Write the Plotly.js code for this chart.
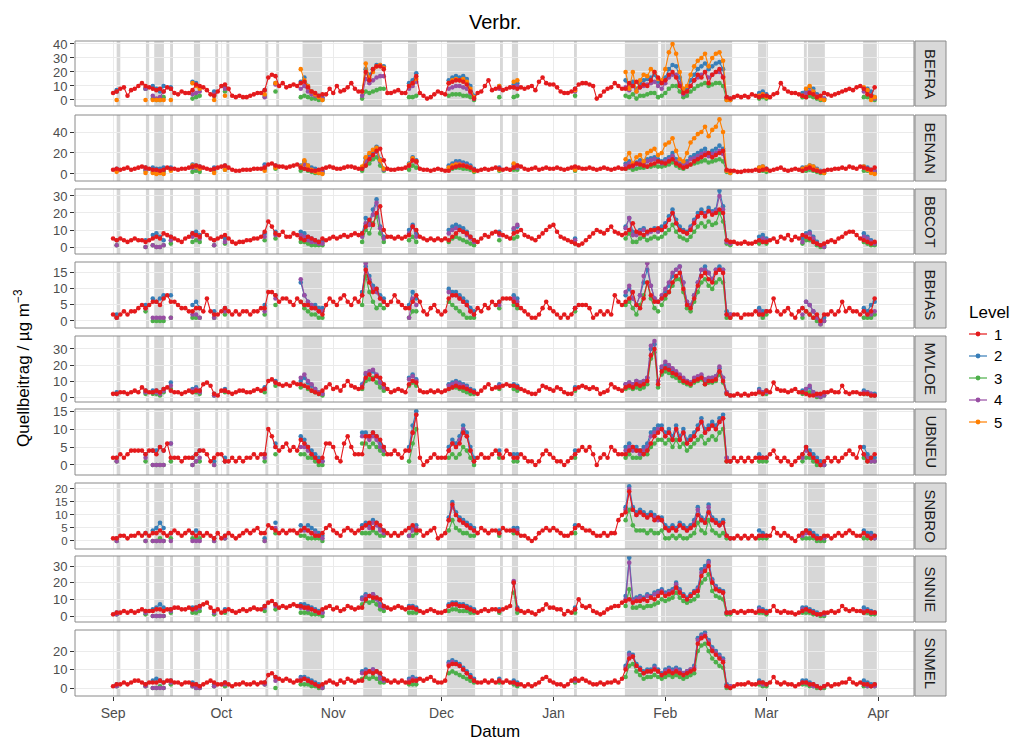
<!DOCTYPE html>
<html><head><meta charset="utf-8">
<script src="https://cdn.plot.ly/plotly-3.0.1.min.js"></script>
<style>html,body{margin:0;padding:0;background:#fff}#chart{width:1020px;height:742px}</style>
</head><body><div id="chart"></div>
<script>
// ---------------- DATA ----------------
const STATIONS = ['BEFRA','BENAN','BBCOT','BBHAS','MVLOE','UBNEU','SNBRO','SNNIE','SNMEL'];
const LEVELS = ['1','2','3','4','5'];
const MONTH_TICKS = ['2013-09-01','2013-10-01','2013-11-01','2013-12-01','2014-01-01','2014-02-01','2014-03-01','2014-04-01'];
const Y_TICKS = [[0,10,20,30,40],[0,20,40],[0,10,20,30],[0,5,10,15],[0,10,20,30],[0,5,10,15],[0,5,10,15,20],[0,10,20,30],[0,10,20]];
// episode days (days after 1 Sep) on which levels 2-5 are reported
const EPISODE_START = [1,9,11,16,22,28,31,42,45,52,69,82,93,107,111,128,142,152,179,191,192,208];
const EPISODE_END   = [1,9,14,16,24,28,31,42,45,58,75,84,100,107,112,128,151,171,181,191,197,211];
// shaded periods (days after 1 Sep)
const SHADE_START = [1.0,9.1,11.4,15.8,22.4,28.3,31.4,42.2,45.2,52.5,69.3,81.7,92.5,107.2,110.5,127.7,141.8,151.8,178.7,191.4,192.5,207.8];
const SHADE_END   = [2.0,10.0,14.1,16.6,24.1,29.1,32.2,43.0,46.0,57.9,74.5,84.2,100.3,108.0,112.2,128.5,151.0,171.5,181.4,192.2,197.2,211.6];

// Level 1: daily values 1 Sep .. 31 Mar (one line per month)
const BEFRA_L1 = [
 5,6,8,9,3,7,8,10,12,10,9,8,7,8,6,9,8,5,4,6,5,5,7,11,10,9,7,4,3,6,
 10,11,8,3,2,3,2,2,3,4,5,5,7,16,18,17,10,12,9,10,11,10,12,13,9,6,5,3,4,4,8,
 5,10,6,7,9,12,8,6,6,20,14,22,24,24,22,5,5,6,7,5,5,10,12,17,5,3,1,2,4,6,
 5,4,12,13,14,14,13,11,6,1,5,6,10,14,7,8,9,7,8,9,9,8,9,8,9,10,7,13,16,12,11,
 11,9,6,5,5,6,8,11,12,12,11,10,1,3,6,8,9,12,10,8,8,12,10,13,9,11,10,14,20,16,12,
 14,18,20,16,10,5,6,10,14,18,16,20,12,18,20,22,16,2,1,2,3,2,3,2,4,3,2,3,
 3,2,4,5,12,8,6,5,5,4,3,2,5,4,2,3,5,4,3,4,5,6,7,8,7,9,10,8,4,3,9];
const BENAN_L1 = [
 4,5,4,5,6,4,5,6,7,6,5,4,4,3,4,6,5,5,4,5,5,6,7,8,7,6,5,4,5,6,
 7,8,6,4,3,3,4,4,4,5,5,5,6,9,10,8,7,7,6,7,8,9,6,5,4,3,3,4,5,6,7,
 6,5,5,6,7,7,6,5,5,8,14,18,22,24,13,5,4,4,5,5,6,8,13,12,5,4,4,3,4,5,
 4,3,3,6,7,8,8,7,6,4,3,4,5,4,5,6,5,4,5,4,6,8,7,5,4,5,6,4,5,6,5,
 5,6,5,4,5,6,7,6,5,5,6,5,4,5,6,5,4,5,6,5,5,7,8,10,9,8,7,9,10,12,11,
 10,12,14,10,8,6,7,9,12,14,16,18,20,16,18,20,22,4,3,3,2,2,3,3,3,4,3,4,
 5,3,4,5,6,4,3,4,5,4,3,5,6,4,3,2,3,4,4,5,5,6,5,7,6,5,7,6,5,4,6];
const BBCOT_L1 = [
 5,4,5,4,3,4,5,4,4,3,4,5,6,5,8,7,6,5,4,3,5,6,8,7,6,9,7,5,4,5,
 6,7,5,3,2,3,3,4,4,5,5,6,9,15,12,8,7,9,6,6,8,7,5,4,6,5,4,3,5,4,5,
 6,5,6,7,6,7,8,7,8,12,16,13,20,24,10,6,6,5,6,5,6,7,12,10,6,5,4,5,4,5,
 4,5,4,6,8,10,9,8,6,4,3,5,7,6,8,9,8,7,6,5,8,9,10,7,6,5,4,6,8,10,12,
 13,9,6,5,4,3,2,1,2,4,6,8,10,9,8,10,12,9,8,7,8,10,14,9,8,7,9,10,10,11,10,
 12,16,20,14,10,9,8,10,14,18,20,18,21,19,20,22,20,4,3,3,2,2,3,2,2,3,4,3,
 3,4,5,3,6,5,7,4,6,5,7,6,5,3,2,1,2,3,4,3,5,6,8,9,9,7,5,4,3,2,3];
const BBHAS_L1 = [
 2,1,2,3,2,3,3,4,5,4,5,6,6,5,7,8,6,6,5,4,4,3,3,4,4,3,7,3,2,2,
 3,4,3,2,3,2,3,3,2,3,3,4,4,9,9,8,6,7,7,6,5,7,6,5,5,4,4,3,2,5,7,
 6,5,7,8,6,5,7,6,8,16,12,9,10,7,6,5,6,8,6,5,4,4,6,8,6,3,2,4,5,3,
 2,3,7,8,8,7,6,5,3,2,4,3,5,4,6,5,6,7,7,7,6,5,4,3,2,1,1,2,4,6,4,
 3,2,1,2,1,2,4,5,5,5,4,1,2,3,2,3,2,8,6,5,6,7,9,5,4,7,12,8,6,6,7,
 8,9,12,14,15,10,5,4,7,11,14,15,13,12,15,16,15,2,1,2,2,1,2,2,2,3,2,2,
 3,3,7,3,2,3,4,2,1,3,4,3,2,1,2,0,2,2,3,2,3,6,3,4,3,3,2,3,2,3,7];
const MVLOE_L1 = [
 2,2,3,3,2,3,4,3,6,4,3,3,4,3,5,6,4,3,3,2,3,4,3,4,4,8,9,7,2,1,
 4,4,3,2,3,4,4,3,3,4,5,4,5,10,11,9,8,7,8,7,9,8,8,7,6,4,3,2,4,6,8,
 5,6,4,7,10,7,6,5,6,12,14,11,13,12,8,5,3,4,5,4,3,8,10,9,4,3,3,4,3,4,
 3,4,5,6,7,6,6,5,4,3,2,4,6,8,5,6,6,7,8,7,7,6,5,4,3,2,2,4,7,6,5,
 4,6,5,3,2,2,5,6,7,6,5,6,5,2,3,4,8,6,5,4,6,7,6,8,7,8,10,26,30,8,16,
 18,17,15,14,12,10,9,8,10,11,12,8,10,10,11,16,10,2,1,1,2,1,2,1,2,2,3,2,
 4,3,9,5,4,4,3,4,5,3,3,2,1,1,2,2,3,3,4,3,3,7,3,2,3,3,2,2,2,1,1];
const UBNEU_L1 = [
 2,2,3,2,3,4,4,4,4,3,4,4,3,5,4,6,2,2,2,1,2,2,2,3,4,4,3,1,2,3,
 3,1,1,2,1,2,1,2,2,3,2,3,3,10,8,5,4,5,6,4,5,4,7,6,5,3,2,1,2,6,6,
 5,2,1,6,8,5,3,3,3,8,8,9,8,7,5,3,3,4,3,2,4,4,9,14,2,0,1,2,3,2,
 2,2,4,6,5,6,9,8,4,1,2,3,2,2,3,4,3,2,4,3,2,2,3,2,1,1,0,1,3,4,3,
 2,1,1,0,1,2,3,4,5,4,5,3,0,2,3,2,5,4,3,3,3,4,5,4,4,3,4,6,8,9,10,
 8,9,7,10,7,9,6,7,8,10,12,9,10,11,10,12,13,1,1,2,1,2,1,2,1,2,2,2,
 2,3,4,2,1,2,1,0,1,2,3,5,3,2,1,0,1,2,1,2,1,2,3,4,3,2,5,3,1,2,3];
const SNBRO_L1 = [
 1,1,2,2,1,2,2,3,2,3,2,3,3,4,3,2,3,4,3,2,3,4,3,2,3,2,3,2,1,3,
 1,2,3,2,1,2,3,4,3,4,5,3,3,6,5,4,3,4,3,4,4,3,4,5,4,3,2,2,3,5,6,
 4,3,2,4,5,4,3,4,5,6,7,5,7,6,4,3,2,3,2,3,4,5,6,4,4,2,3,4,5,1,
 2,3,8,14,10,8,7,6,5,4,3,5,4,3,4,4,3,5,4,4,4,3,2,2,1,0,1,3,4,5,4,
 5,4,3,2,2,3,5,6,5,4,4,3,2,2,3,2,3,3,8,10,11,19,12,10,11,10,9,10,8,9,8,
 5,4,5,4,6,5,4,5,6,10,8,7,11,8,7,6,7,2,1,1,2,1,2,1,2,1,2,2,
 2,2,5,3,2,3,2,1,0,2,3,4,3,2,1,1,2,2,1,2,3,2,3,4,3,2,2,3,2,1,2];
const SNNIE_L1 = [
 1,2,2,3,2,3,2,3,4,3,3,3,4,4,3,4,4,5,5,4,4,5,4,5,6,7,8,5,3,4,
 2,3,4,3,2,3,4,3,4,5,4,4,6,8,9,7,5,6,5,6,7,6,6,5,5,4,3,2,4,5,6,
 4,5,3,4,6,5,4,5,5,10,12,11,11,10,6,5,4,5,6,5,4,5,5,4,3,2,3,4,3,2,
 2,3,6,7,7,6,6,5,4,3,2,3,4,3,4,4,3,4,5,6,20,4,3,2,3,2,1,3,4,7,5,
 5,4,4,1,3,2,4,10,6,5,6,3,2,1,2,4,5,6,6,8,9,10,8,9,9,10,9,11,10,12,14,
 12,13,14,17,14,12,10,12,14,15,24,27,30,20,16,15,14,2,2,3,2,3,2,3,3,2,3,3,
 2,3,6,3,2,3,2,2,1,2,3,4,3,2,1,1,2,2,3,2,3,6,4,3,4,3,3,2,3,2,2];
const SNMEL_L1 = [
 1,2,2,3,2,3,4,4,3,2,3,3,3,4,3,4,4,3,3,2,3,3,2,2,1,2,3,4,3,2,
 2,3,2,1,2,2,3,2,2,3,2,3,3,7,8,6,5,4,5,4,3,4,4,5,4,3,2,1,2,3,4,
 3,2,4,3,5,4,3,4,4,8,9,8,9,8,5,4,3,4,3,4,3,3,4,4,5,4,5,6,4,3,
 3,4,12,13,13,12,10,8,6,4,3,3,4,3,4,3,4,3,4,3,3,2,2,1,2,1,2,3,5,6,4,
 3,2,2,1,2,4,5,4,5,4,3,2,2,3,2,3,3,4,3,5,10,16,17,12,10,8,9,9,10,9,7,
 8,9,8,9,8,7,8,9,10,24,27,28,24,20,18,16,14,1,0,1,2,2,2,3,2,2,3,3,
 2,3,6,3,2,3,2,2,1,2,3,3,2,2,1,0,1,2,1,2,2,3,3,5,3,2,3,2,2,1,2];

// Levels 2-5 on the episode days, segments in EPISODE_START order
const BEFRA_L2 = [7,8,10,8,6,10,9,13,12,9,6,10,7,12,13,16,10,6,4,3,2,6,22,18,22,25,25,24,12,14,19,14,16,17,16,17,15,10,3,10,11,12,8,14,10,13,8,12,14,15,16,18,13,12,16,22,25,24,16,6,8,14,18,22,24,26,22,24,26,27,22,2,1,5,6,4,5,7,9,8,4,2,1,8,8,6,2];
const BEFRA_L3 = [6,8,1,0,0,2,8,1,2,3,3,6,3,6,2,3,2,1,1,0,0,1,6,5,6,7,8,8,2,2,3,3,4,4,4,3,3,2,0,2,2,3,3,3,2,4,1,3,3,4,5,5,2,3,5,8,10,10,6,2,3,6,8,10,11,12,10,11,12,12,10,0,0,1,2,1,2,2,3,2,1,0,0,2,2,1,0];
const BEFRA_L4 = [6,8,3,1,2,6,8,4,5,6,4,8,2,11,8,10,6,4,3,2,1,3,15,12,14,16,17,17,8,10,13,8,9,10,10,9,8,5,1,8,9,10,6,9,7,10,6,9,10,11,12,13,10,8,12,16,18,18,12,4,6,10,14,16,18,20,16,18,20,20,17,1,0,3,4,3,3,5,6,5,3,1,1,6,6,3,1];
const BEFRA_L5 = [0,0,0,0,0,0,0,12,10,8,0,3,4,12,22,14,10,6,4,2,0,6,26,16,20,24,25,23,10,12,15,12,14,15,14,15,13,8,2,10,13,14,7,20,8,20,6,14,18,17,22,20,15,14,22,34,40,33,20,8,10,18,24,28,30,33,24,30,33,34,28,0,0,3,4,2,3,8,10,6,2,1,0,9,7,0,2];
const BENAN_L2 = [5,6,6,5,5,6,6,9,8,7,6,8,9,8,8,12,8,6,5,3,3,6,15,18,22,26,14,5,10,16,13,8,10,12,12,11,10,8,5,6,9,8,6,10,12,9,11,13,12,14,15,16,14,12,14,16,20,14,10,9,12,16,18,20,22,24,20,22,24,27,24,3,2,6,7,5,6,6,8,7,5,3,2,7,6,4,3];
const BENAN_L3 = [4,3,2,1,1,2,4,2,3,2,3,4,5,5,3,5,3,2,1,1,1,3,8,10,14,16,8,3,4,8,6,4,5,6,6,5,5,4,2,3,4,4,3,5,6,4,5,6,6,7,7,8,7,7,8,9,11,8,6,5,7,9,10,11,12,13,11,12,13,14,12,2,1,3,3,2,3,3,4,3,2,1,1,3,3,2,1];
const BENAN_L4 = [4,4,4,3,3,4,5,6,6,5,5,6,7,7,6,9,6,4,3,2,2,5,12,15,18,21,12,4,8,13,11,6,8,10,10,9,8,6,4,5,7,6,5,8,10,7,9,11,10,12,13,14,12,10,12,14,17,12,9,8,10,14,15,17,19,20,17,19,20,22,19,3,2,5,6,4,5,5,7,6,4,2,2,6,5,3,2];
const BENAN_L5 = [2,1,1,0,1,0,3,8,7,5,1,4,3,6,7,13,8,4,2,1,0,7,16,20,23,25,13,5,9,15,12,6,8,9,9,8,7,6,3,4,10,8,4,14,20,10,16,18,12,20,22,24,18,20,28,30,34,22,14,12,20,30,34,38,40,45,36,42,45,52,40,3,1,6,7,4,5,6,8,7,4,2,1,7,4,1,0];
const BBCOT_L2 = [4,4,7,8,6,4,6,8,9,7,4,5,8,9,9,8,6,5,4,3,3,8,17,15,22,28,12,6,10,13,8,10,12,13,12,11,9,6,4,9,10,12,5,12,17,9,8,10,11,9,10,11,10,12,14,18,22,16,12,10,9,12,16,20,22,20,23,21,22,33,24,4,2,6,7,5,5,8,9,6,3,1,1,8,6,4,2];
const BBCOT_L3 = [1,0,1,0,0,1,2,3,4,3,1,2,4,5,3,3,2,1,1,1,1,3,10,8,14,18,8,3,4,6,3,3,5,6,5,4,3,2,1,4,5,6,2,5,8,3,3,5,6,4,5,6,5,6,8,10,13,9,6,5,4,6,9,12,14,12,15,13,14,20,15,2,1,2,3,2,2,4,4,3,1,0,0,3,2,1,1];
const BBCOT_L4 = [1,0,1,0,0,1,4,6,7,5,1,3,6,7,7,6,4,3,3,2,2,6,14,13,19,26,11,5,8,12,6,8,10,11,10,9,7,5,3,7,11,13,4,11,17,7,7,9,10,8,9,10,9,10,12,16,20,14,10,9,8,11,15,18,20,19,21,20,21,30,22,3,2,4,5,4,3,7,8,5,2,1,0,6,5,3,2];
const BBHAS_L2 = [2,5,7,6,7,8,8,5,6,4,3,4,5,8,12,8,6,5,5,4,4,9,17,14,11,10,8,7,5,9,7,10,9,9,8,7,6,4,3,6,8,7,4,8,10,7,5,8,12,16,11,7,6,7,9,11,14,16,17,12,6,5,8,12,16,17,15,13,16,17,16,3,2,4,3,3,4,6,5,3,1,0,1,4,3,5,6];
const BBHAS_L3 = [1,3,0,0,0,0,1,1,1,1,1,2,2,5,6,4,3,2,2,1,1,5,14,9,6,4,5,4,1,3,3,6,5,4,3,2,1,1,1,4,5,4,3,5,6,4,2,5,8,12,7,4,3,5,7,9,11,13,13,9,4,3,6,9,12,13,11,10,12,13,12,1,1,2,1,2,1,3,2,1,0,-1,0,1,1,1,2];
const BBHAS_L4 = [1,4,1,1,1,1,1,2,2,1,1,3,3,7,13,8,6,5,4,3,3,8,18,13,10,9,7,6,1,7,5,9,8,8,7,6,5,3,2,5,7,6,4,9,11,7,5,8,14,18,11,7,6,8,10,12,15,16,17,12,6,5,8,12,16,16,15,13,16,16,16,2,2,3,2,3,2,6,5,3,1,-1,0,3,2,2,3];
const MVLOE_L2 = [3,4,4,4,3,5,9,5,6,4,2,5,6,10,10,12,9,7,5,3,2,8,14,15,16,13,9,6,12,14,11,8,9,10,9,8,7,5,4,8,8,7,6,8,9,8,10,9,10,12,30,33,10,18,20,19,17,15,13,11,10,9,11,12,13,10,11,12,13,18,12,3,1,5,3,4,4,5,6,3,1,1,2,4,3,2,2];
const MVLOE_L3 = [2,2,2,2,1,3,5,3,3,2,1,3,3,7,6,7,5,4,3,2,1,5,10,11,12,9,6,4,7,9,7,5,6,6,5,4,3,2,2,5,5,4,4,5,6,5,6,5,6,8,24,28,6,14,16,15,13,12,10,9,8,7,9,10,11,8,9,9,10,14,9,2,1,3,2,2,2,3,3,2,0,0,1,2,2,1,1];
const MVLOE_L4 = [2,3,3,3,2,4,7,4,5,3,1,4,5,9,12,14,10,8,5,3,2,7,15,16,17,14,9,6,11,13,10,7,8,9,8,7,6,4,3,7,7,6,5,8,9,8,10,9,10,12,32,35,10,19,22,20,18,16,14,12,10,9,12,13,14,11,12,12,13,19,12,3,1,4,3,3,3,5,7,3,1,0,1,3,3,2,1];
const UBNEU_L2 = [2,3,4,4,5,4,6,2,3,4,1,2,3,6,8,7,5,4,3,2,1,9,9,8,9,8,6,5,5,11,15,5,7,6,8,11,9,5,2,4,3,3,4,5,6,5,5,4,5,6,9,10,11,11,9,10,8,11,8,10,7,8,9,11,13,10,11,12,11,13,14,2,1,3,2,2,3,5,4,3,2,1,0,5,3,2,2];
const UBNEU_L3 = [1,1,0,0,0,0,1,0,1,1,0,1,1,3,3,3,2,2,1,0,0,6,6,5,6,5,4,3,1,6,10,2,3,2,3,5,4,2,0,2,1,1,2,2,3,2,2,2,3,3,5,6,7,7,6,7,5,7,5,6,4,5,6,7,8,6,7,8,7,9,10,1,1,1,1,1,1,2,2,1,0,0,0,2,1,1,1];
const UBNEU_L4 = [1,2,0,0,0,0,6,0,1,2,0,1,2,5,5,5,4,3,2,1,1,8,8,7,8,7,5,4,4,9,14,4,6,5,7,10,8,4,1,3,2,2,3,4,5,4,4,3,4,5,8,9,10,10,8,9,7,10,7,9,6,7,8,10,12,9,10,11,10,12,13,2,1,2,2,2,2,4,3,2,1,0,0,3,2,1,1];
const SNBRO_L2 = [1,3,4,5,7,5,3,3,4,3,1,2,1,7,6,5,6,5,4,3,2,6,7,6,8,7,5,4,5,5,6,9,15,11,9,8,7,6,5,4,5,5,6,13,21,13,11,12,11,10,11,10,9,9,6,5,6,5,7,6,5,6,8,13,9,8,14,9,8,7,8,2,1,4,3,2,3,4,4,3,2,1,1,4,3,3,2];
const SNBRO_L3 = [0,0,0,0,1,0,1,1,1,1,0,1,0,3,2,2,1,1,1,1,0,3,3,3,4,3,2,2,2,2,3,4,8,5,4,3,3,2,2,2,3,3,3,8,12,6,4,4,4,3,4,3,3,4,1,1,2,1,2,1,1,2,3,7,4,3,8,4,3,2,3,1,1,1,1,1,1,1,1,1,0,0,0,1,1,1,1];
const SNBRO_L4 = [0,0,0,0,0,0,0,0,0,0,0,1,0,5,4,4,4,3,3,2,1,5,6,5,7,6,4,3,2,4,5,8,13,10,8,7,6,5,4,3,4,4,5,12,20,12,10,11,10,9,10,9,8,8,5,4,5,4,6,5,4,5,7,12,8,7,13,8,7,6,7,2,1,2,2,2,2,3,3,2,1,1,1,3,2,2,1];
const SNNIE_L2 = [2,3,4,5,7,5,4,5,5,6,3,4,6,7,7,7,6,5,4,3,2,11,13,12,13,11,7,6,6,6,5,7,8,8,7,7,6,5,4,4,20,5,5,12,35,10,11,12,11,13,12,14,15,16,14,15,16,20,16,13,11,13,15,17,28,30,33,22,18,16,15,2,2,5,4,3,5,5,4,3,2,1,1,5,4,3,2];
const SNNIE_L3 = [1,1,0,0,0,0,2,2,2,3,1,2,3,4,2,2,2,1,1,1,0,7,9,8,9,7,4,3,2,2,2,3,4,4,3,3,3,2,2,2,14,2,2,6,16,5,5,6,5,6,6,7,8,10,9,10,11,14,11,9,8,9,10,12,20,22,25,15,12,11,10,1,1,2,2,1,2,2,2,1,1,0,0,2,2,1,1];
const SNNIE_L4 = [1,2,0,0,0,0,3,4,4,5,2,3,5,6,5,5,4,4,3,2,2,10,12,12,13,10,6,5,5,5,4,6,7,7,6,6,5,4,3,3,21,4,4,10,32,9,10,11,10,12,11,13,14,15,13,14,15,19,15,12,10,12,14,16,26,28,32,21,17,15,14,2,2,4,3,2,4,4,3,2,1,1,1,3,3,2,2];
const SNMEL_L2 = [2,2,4,5,4,3,4,3,2,1,2,3,3,6,6,6,5,4,3,2,1,9,10,9,10,9,6,5,5,6,5,14,15,14,13,11,9,7,5,5,4,3,5,12,19,18,13,11,9,10,10,12,10,8,10,11,10,11,10,8,9,10,12,27,29,30,26,22,20,18,16,2,1,4,3,2,4,4,3,2,1,0,1,4,3,2,2];
const SNMEL_L3 = [1,1,0,0,1,0,2,1,0,0,1,1,2,0,2,2,2,1,1,0,0,5,6,5,6,5,3,3,2,2,2,8,9,8,7,6,5,4,3,3,2,1,3,6,12,13,9,7,5,6,6,7,6,5,6,7,6,7,6,5,6,7,8,20,23,24,20,16,14,12,11,0,0,2,1,1,2,2,1,1,0,0,0,1,1,1,1];
const SNMEL_L4 = [1,1,0,0,0,0,3,1,0,0,1,2,2,4,5,5,4,3,2,1,0,8,9,9,10,9,5,4,4,5,4,13,14,13,12,10,8,6,4,4,3,2,4,11,18,17,12,10,8,9,9,11,9,7,9,10,9,10,9,8,9,10,11,26,28,29,25,21,19,17,15,1,1,3,2,2,3,3,2,1,1,0,1,2,1,1,1];

// ---------------- LAYOUT HELPERS ----------------
const W = 1020, H = 742;
const PX_X0 = 75, PX_X1 = 914, STRIP_X0 = 915, STRIP_X1 = 946;
const PANEL_TOP = [41,115,189,262,336,409,483,556,630];
const PANEL_BOT = [106,181,254,328,402,475,549,622,696];
const Y_RANGES = [[-4.3,42.1],[-6.7,56.2],[-4.1,34.1],[-2.2,18.4],[-3.1,38.1],[-2.8,15.6],[-3.1,22.3],[-3.6,36],[-4.3,31.4]];
const TICK_SIZES = [13,13,13,13,13,13,11.5,13,13];
const COLORS = {'1':'#E41A1C','2':'#377EB8','3':'#4DAF4A','4':'#984EA3','5':'#FF7F00'};
const FONT = 'Liberation Sans, Arial, sans-serif';

const BASE = Date.UTC(2013,8,1);
function dayToDate(d){ return new Date(BASE + d*86400000).toISOString().slice(0,16).replace('T',' '); }
const px = x => x / W;
const py = y => 1 - y / H;

const L1 = {BEFRA:BEFRA_L1,BENAN:BENAN_L1,BBCOT:BBCOT_L1,BBHAS:BBHAS_L1,MVLOE:MVLOE_L1,UBNEU:UBNEU_L1,SNBRO:SNBRO_L1,SNNIE:SNNIE_L1,SNMEL:SNMEL_L1};
const LV = {
 BEFRA:{'2':BEFRA_L2,'3':BEFRA_L3,'4':BEFRA_L4,'5':BEFRA_L5},
 BENAN:{'2':BENAN_L2,'3':BENAN_L3,'4':BENAN_L4,'5':BENAN_L5},
 BBCOT:{'2':BBCOT_L2,'3':BBCOT_L3,'4':BBCOT_L4},
 BBHAS:{'2':BBHAS_L2,'3':BBHAS_L3,'4':BBHAS_L4},
 MVLOE:{'2':MVLOE_L2,'3':MVLOE_L3,'4':MVLOE_L4},
 UBNEU:{'2':UBNEU_L2,'3':UBNEU_L3,'4':UBNEU_L4},
 SNBRO:{'2':SNBRO_L2,'3':SNBRO_L3,'4':SNBRO_L4},
 SNNIE:{'2':SNNIE_L2,'3':SNNIE_L3,'4':SNNIE_L4},
 SNMEL:{'2':SNMEL_L2,'3':SNMEL_L3,'4':SNMEL_L4}
};

const problems = [];
const traces = [];
const shapes = [];
const annotations = [];
const layout = {
  width: W, height: H, margin:{l:0,r:0,t:0,b:0},
  paper_bgcolor:'#FFFFFF', plot_bgcolor:'#FFFFFF', showlegend:false,
  font:{family:FONT, color:'#4D4D4D'}
};

layout.xaxis = {
  domain:[px(PX_X0), px(PX_X1)], anchor:'y9', type:'date',
  range:[dayToDate(-10.55), dayToDate(221.9)],
  tickvals: MONTH_TICKS, tickformat:'%b',
  ticks:'outside', ticklen:4, tickcolor:'#333333', tickwidth:1,
  tickfont:{size:14, color:'#4D4D4D', family:FONT},
  showgrid:true, gridcolor:'#EBEBEB', gridwidth:1, zeroline:false, showline:false
};

const dayDates = [];
for (let d = 0; d < 212; d++) dayDates.push(dayToDate(d));

STATIONS.forEach((st, i) => {
  const n = i + 1;
  const yname = n === 1 ? 'y' : 'y' + n;
  const yk = n === 1 ? 'yaxis' : 'yaxis' + n;
  layout[yk] = {
    domain:[py(PANEL_BOT[i]), py(PANEL_TOP[i])], anchor:'x', range:Y_RANGES[i],
    tickvals:Y_TICKS[i], ticks:'outside', ticklen:4, tickcolor:'#333333', tickwidth:1,
    tickfont:{size:TICK_SIZES[i], color:'#4D4D4D', family:FONT},
    showgrid:true, gridcolor:'#EBEBEB', gridwidth:1, zeroline:false, showline:false
  };
  // shaded periods
  SHADE_START.forEach((s, k) => {
    shapes.push({type:'rect', xref:'x', yref: yname + ' domain', x0:dayToDate(s), x1:dayToDate(SHADE_END[k]), y0:0, y1:1,
      fillcolor:'rgba(150,150,150,0.38)', line:{width:0}, layer:'below'});
  });
  // panel border
  shapes.push({type:'rect', xref:'paper', yref:'paper', x0:px(PX_X0), x1:px(PX_X1), y0:py(PANEL_BOT[i]), y1:py(PANEL_TOP[i]),
    line:{color:'#8A8A8A', width:1}, fillcolor:'rgba(0,0,0,0)', layer:'above'});
  // strip
  shapes.push({type:'rect', xref:'paper', yref:'paper', x0:px(STRIP_X0), x1:px(STRIP_X1), y0:py(PANEL_BOT[i]), y1:py(PANEL_TOP[i]),
    line:{color:'#8A8A8A', width:1}, fillcolor:'#D9D9D9', layer:'above'});
  annotations.push({xref:'paper', yref:'paper', x:px((STRIP_X0+STRIP_X1)/2), y:py((PANEL_TOP[i]+PANEL_BOT[i])/2),
    text:st, showarrow:false, textangle:90, font:{size:15, color:'#1A1A1A', family:FONT}, xanchor:'center', yanchor:'middle'});

  // levels 2..5
  ['2','3','4','5'].forEach(lv => {
    const vals = LV[st][lv];
    if (!vals) return;
    if (vals.length !== 87) problems.push(st + ' L' + lv + ' length ' + vals.length);
    const xs = [], ys = [];
    let idx = 0;
    EPISODE_START.forEach((s, k) => {
      for (let d = s; d <= EPISODE_END[k]; d++) { xs.push(dayToDate(d)); ys.push(vals[idx++]); }
      xs.push(null); ys.push(null);
    });
    traces.push({type:'scatter', mode:'lines+markers', x:xs, y:ys, xaxis:'x', yaxis:yname, connectgaps:false,
      line:{color:COLORS[lv], width:1.1}, marker:{color:COLORS[lv], size:4.6}, hoverinfo:'skip', name:lv});
  });
  // level 1 on top
  const v1 = L1[st];
  if (v1.length !== 212) problems.push(st + ' L1 length ' + v1.length);
  traces.push({type:'scatter', mode:'lines+markers', x:dayDates, y:v1, xaxis:'x', yaxis:yname,
    line:{color:COLORS['1'], width:1.1}, marker:{color:COLORS['1'], size:4.6}, hoverinfo:'skip', name:'1'});
});

// titles
annotations.push({xref:'paper', yref:'paper', x:px((PX_X0+PX_X1)/2), y:py(22), text:'Verbr.', showarrow:false,
  font:{size:20, color:'#000000', family:FONT}, xanchor:'center', yanchor:'middle'});
annotations.push({xref:'paper', yref:'paper', x:px((PX_X0+PX_X1)/2), y:py(731), text:'Datum', showarrow:false,
  font:{size:17, color:'#000000', family:FONT}, xanchor:'center', yanchor:'middle'});
annotations.push({xref:'paper', yref:'paper', x:px(22), y:py(368), text:'Quellbeitrag / µg m<sup>−3</sup>', showarrow:false,
  textangle:-90, font:{size:17, color:'#000000', family:FONT}, xanchor:'center', yanchor:'middle'});

// legend
annotations.push({xref:'paper', yref:'paper', x:px(967), y:py(312), text:'Level', showarrow:false,
  font:{size:17, color:'#000000', family:FONT}, xanchor:'left', yanchor:'middle'});
LEVELS.forEach((lv, k) => {
  const yy = 334 + k * 22;
  shapes.push({type:'line', xref:'paper', yref:'paper', x0:px(969), x1:px(987), y0:py(yy), y1:py(yy),
    line:{color:COLORS[lv], width:1.2}, layer:'above'});
  shapes.push({type:'circle', xref:'paper', yref:'paper', xsizemode:'pixel', ysizemode:'pixel',
    xanchor:px(978), yanchor:py(yy), x0:-2.4, x1:2.4, y0:-2.4, y1:2.4,
    fillcolor:COLORS[lv], line:{color:COLORS[lv], width:0}, layer:'above'});
  annotations.push({xref:'paper', yref:'paper', x:px(992), y:py(yy), text:lv, showarrow:false,
    font:{size:15, color:'#000000', family:FONT}, xanchor:'left', yanchor:'middle'});
});

layout.shapes = shapes;
layout.annotations = annotations;

Plotly.newPlot('chart', traces, layout, {staticPlot:true, displayModeBar:false});
if (problems.length) setTimeout(() => { throw new Error('Data length problems: ' + problems.join('; ')); }, 0);
</script>
</body></html>
